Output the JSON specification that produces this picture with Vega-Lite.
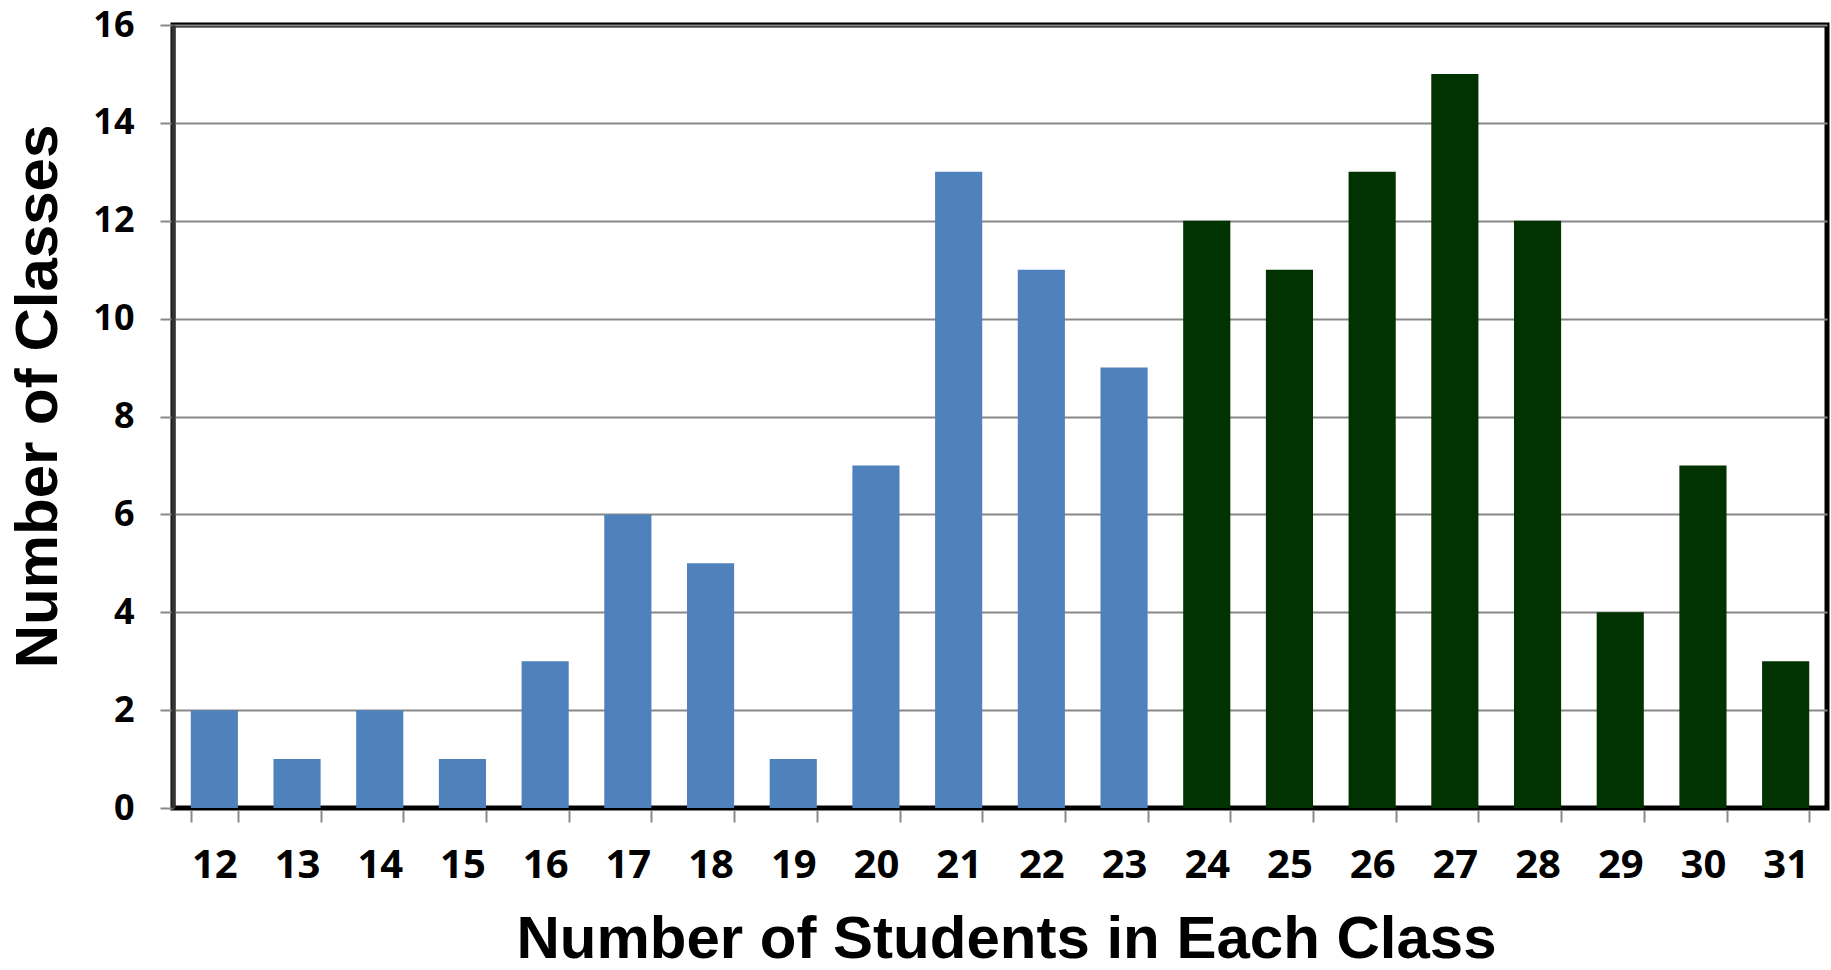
{
  "$schema": "https://vega.github.io/schema/vega-lite/v6.json",
  "autosize": {"type": "none"},
  "padding": {"left": 173, "top": 25, "right": 4, "bottom": 162},
  "width": 1654,
  "height": 783,
  "background": "white",
  "config": {
    "view": {"stroke": "black", "strokeWidth": 5},
    "axis": {"labelFont": "Open Sans", "labelFontWeight": "bold", "labelColor": "black", "titleFont": "Liberation Sans", "titleFontWeight": "bold", "titleColor": "black", "titleFontSize": 60}
  },
  "data": {
    "values": [
      {"students": "12", "classes": 2, "group": "a"},
      {"students": "13", "classes": 1, "group": "a"},
      {"students": "14", "classes": 2, "group": "a"},
      {"students": "15", "classes": 1, "group": "a"},
      {"students": "16", "classes": 3, "group": "a"},
      {"students": "17", "classes": 6, "group": "a"},
      {"students": "18", "classes": 5, "group": "a"},
      {"students": "19", "classes": 1, "group": "a"},
      {"students": "20", "classes": 7, "group": "a"},
      {"students": "21", "classes": 13, "group": "a"},
      {"students": "22", "classes": 11, "group": "a"},
      {"students": "23", "classes": 9, "group": "a"},
      {"students": "24", "classes": 12, "group": "b"},
      {"students": "25", "classes": 11, "group": "b"},
      {"students": "26", "classes": 13, "group": "b"},
      {"students": "27", "classes": 15, "group": "b"},
      {"students": "28", "classes": 12, "group": "b"},
      {"students": "29", "classes": 4, "group": "b"},
      {"students": "30", "classes": 7, "group": "b"},
      {"students": "31", "classes": 3, "group": "b"}
    ]
  },
  "mark": {"type": "bar"},
  "encoding": {
    "x": {
      "field": "students", "type": "ordinal", "sort": null,
      "scale": {"paddingInner": 0.43, "paddingOuter": 0.215},
      "axis": {
        "title": "Number of Students in Each Class",
        "labelAngle": 0, "labelFontSize": 40, "labelBaseline": "alphabetic", "labelPadding": 55,
        "tickBand": "extent", "tickSize": 14, "tickColor": "#888888", "tickWidth": 2,
        "domainColor": "black", "domainWidth": 3,
        "titleX": 833, "titleY": 149, "titleBaseline": "alphabetic", "titleAlign": "center"
      }
    },
    "y": {
      "field": "classes", "type": "quantitative",
      "scale": {"domain": [0, 16], "nice": false},
      "axis": {
        "title": "Number of Classes",
        "values": [0, 2, 4, 6, 8, 10, 12, 14, 16],
        "labelFontSize": 36, "labelPadding": 26,
        "tickSize": 13, "tickColor": "#888888", "tickWidth": 2,
        "grid": true, "gridColor": "#888888", "gridWidth": 2,
        "domainColor": "#333333", "domainWidth": 4,
        "titleX": -117, "titleY": 371, "titleBaseline": "alphabetic", "titleAngle": -90, "titleAlign": "center"
      }
    },
    "color": {
      "field": "group", "type": "nominal",
      "scale": {"domain": ["a", "b"], "range": ["#4F81BD", "#003300"]},
      "legend": null
    }
  }
}
